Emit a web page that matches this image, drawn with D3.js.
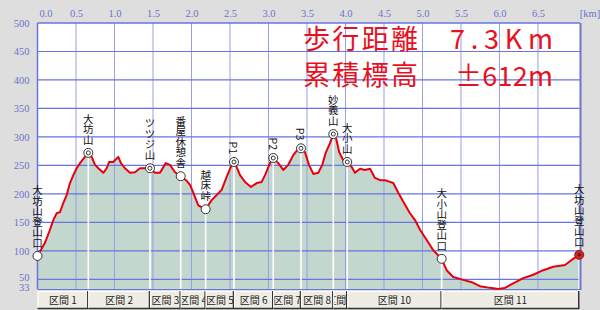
<!DOCTYPE html>
<html><head><meta charset="utf-8">
<script src="https://cdn.jsdelivr.net/npm/d3@7"></script>
<style>
html,body{margin:0;padding:0;background:#dedede;}
svg{display:block;}
</style></head>
<body>
<svg id="chart" width="600" height="310"></svg>
<script>
// ---- data ----
const profileKm = [0,0.097,0.162,0.205,0.249,0.292,0.335,0.379,0.422,0.465,0.509,0.552,0.617,0.660,0.704,0.747,0.790,0.855,0.899,0.929,0.984,1.049,1.084,1.136,1.201,1.266,1.331,1.396,1.461,1.526,1.591,1.665,1.721,1.786,1.860,1.938,1.981,2.023,2.088,2.184,2.262,2.327,2.392,2.457,2.522,2.552,2.587,2.630,2.695,2.773,2.847,2.912,2.955,3.019,3.062,3.127,3.192,3.257,3.322,3.387,3.422,3.474,3.526,3.582,3.647,3.699,3.743,3.799,3.842,3.877,3.919,3.971,4.023,4.081,4.123,4.188,4.253,4.318,4.383,4.448,4.513,4.560,4.621,4.686,4.751,4.838,4.903,4.968,5.055,5.140,5.249,5.314,5.400,5.530,5.639,5.747,5.877,5.984,6.071,6.179,6.309,6.439,6.569,6.699,6.851,6.938,7.036];
const profileElev = [91,114,137,154,166,168,184,198,219,233,245,254,265,272,265,251,245,237,245,256,256,265,254,245,237,238,245,245,245,237,237,254,251,238,231,223,216,202,180,173,189,198,207,230,251,256,247,233,221,212,219,221,233,254,263,254,242,251,268,279,280,273,251,235,237,251,272,289,305,298,273,259,256,247,237,244,242,244,228,224,224,222,219,202,186,166,154,137,119,101,86,66,54,49,45,38,35,33,35,43,52,58,66,72,75,84,93];

const wpNames = ["大坊山登山口","大坊山","ツツジ山","番屋休憩舎","越床峠","P1","P2","P3","妙義山","大小山","大小山登山口","大坊山登山口"];
const wpKm    = [0,0.660,1.461,1.860,2.184,2.552,3.062,3.422,3.842,4.023,5.249,7.036];
const wpElev  = [91,272,245,231,173,256,263,280,305,256,86,93];
const wpType  = ["plain","peak","peak","plain","plain","peak","peak","peak","peak","peak","plain","end"];

const segLabels = ["区間 1","区間 2","区間 3","区間 4","区間 5","区間 6","区間 7","区間 8","区間 9","区間 10","区間 11"];

const xTicks = [0,0.5,1,1.5,2,2.5,3,3.5,4,4.5,5,5.5,6,6.5];
const yTicks = [33,50,100,150,200,250,300,350,400,450,500];
const yGrid  = [50,100,150,200,250,300,350,400,450];

const titleLine1 = ["歩行距離","7.3Km"];
const titleLine2 = ["累積標高","±612m"];

// ---- layout ----
const L = 37.5, R = 580, T = 23, B = 289;
const x = d3.scaleLinear().domain([0, 7.046]).range([L, R]);
const y = d3.scaleLinear().domain([33, 500]).range([B, T]);

const svg = d3.select("#chart");
svg.append("rect").attr("width",600).attr("height",310).attr("fill","#dedede");
svg.append("rect").attr("x",L).attr("y",T).attr("width",R-L).attr("height",B-T).attr("fill","#ffffff");

const pts = profileKm.map((k,i)=>[k,profileElev[i]]);

// fill
svg.append("path").datum(pts)
  .attr("d", d3.area().x(d=>x(d[0])).y0(B).y1(d=>y(d[1])))
  .attr("fill","#c3d7cf");

// grid
svg.append("g").selectAll("line").data(xTicks.filter(d=>d>0)).join("line")
  .attr("x1",d=>x(d)).attr("x2",d=>x(d)).attr("y1",T).attr("y2",B)
  .attr("stroke","#98a0e4").attr("stroke-width",1);
svg.append("g").selectAll("line").data(yGrid).join("line")
  .attr("x1",L).attr("x2",R).attr("y1",d=>y(d)).attr("y2",d=>y(d))
  .attr("stroke","#6676dc").attr("stroke-width",1.2);

// drop lines
svg.append("g").selectAll("line").data(wpKm.slice(1)).join("line")
  .attr("x1",d=>x(d)).attr("x2",d=>x(d))
  .attr("y1",(d,i)=>y(wpElev[i+1])).attr("y2",B+4)
  .attr("stroke","#ffffff").attr("stroke-width",1.6);

// frame
svg.append("line").attr("x1",L).attr("x2",R).attr("y1",T).attr("y2",T).attr("stroke","#6676dc").attr("stroke-width",1.5);
svg.append("line").attr("x1",L).attr("x2",L).attr("y1",T).attr("y2",B).attr("stroke","#6676dc").attr("stroke-width",1.5);
svg.append("line").attr("x1",R+0.5).attr("x2",R+0.5).attr("y1",T).attr("y2",B+1).attr("stroke","#6f74cc").attr("stroke-width",2);
svg.append("line").attr("x1",L).attr("x2",R).attr("y1",B+0.5).attr("y2",B+0.5).attr("stroke","#6676dc").attr("stroke-width",1);

// profile line
svg.append("path").datum(pts)
  .attr("d", d3.line().x(d=>x(d[0])).y(d=>y(d[1])))
  .attr("fill","none").attr("stroke","#e8000c").attr("stroke-width",2).attr("stroke-linejoin","round");

// markers
const mk = svg.append("g");
wpKm.forEach((k,i)=>{
  const cx = x(k), cy = y(wpElev[i]);
  if (wpType[i]==="end"){
    mk.append("circle").attr("cx",cx).attr("cy",cy).attr("r",4.5).attr("fill","#e02020").attr("stroke","#802020").attr("stroke-width",1);
    mk.append("circle").attr("cx",cx).attr("cy",cy).attr("r",1.8).attr("fill","#602020");
  } else {
    mk.append("circle").attr("cx",cx).attr("cy",cy).attr("r",4.5).attr("fill","#ffffff").attr("stroke","#333333").attr("stroke-width",1);
    if (wpType[i]==="peak")
      mk.append("circle").attr("cx",cx).attr("cy",cy).attr("r",2).attr("fill","none").attr("stroke","#333333").attr("stroke-width",1);
  }
});

// labels (vertical)
svg.append("g").selectAll("text").data(wpNames).join("text")
  .attr("x",(d,i)=>x(wpKm[i]))
  .attr("y",(d,i)=>y(wpElev[i]) - 8)
  .attr("text-anchor","end")
  .style("writing-mode","vertical-rl")
  .attr("font-family","'Noto Sans CJK JP', sans-serif")
  .attr("font-size",10.5)
  .attr("fill","#111")
  .text(d=>d);

// axes
const ax = svg.append("g").attr("transform",`translate(0,${T-6})`)
  .call(d3.axisTop(x).tickValues(xTicks).tickFormat(d3.format(".1f")).tickSize(0).tickPadding(0));
ax.select(".domain").remove();
ax.selectAll("text").attr("font-family","'Liberation Serif', serif").attr("font-size",10.5).attr("fill","#6a74c8");
ax.selectAll(".tick").filter(d=>d===0).select("text").attr("dx",8);
svg.append("text").attr("x",590).attr("y",T-6).attr("text-anchor","middle")
  .attr("font-family","'Liberation Serif', serif").attr("font-size",10.5).attr("fill","#6a74c8").text("[km]");

const ay = svg.append("g").attr("transform",`translate(${L},0)`)
  .call(d3.axisLeft(y).tickValues(yTicks).tickSize(0).tickPadding(8));
ay.select(".domain").remove();
ay.selectAll("text").attr("font-family","'Liberation Serif', serif").attr("font-size",10.5).attr("fill","#6a74c8");
ay.selectAll(".tick").filter(d=>d===33).select("text").attr("dy","0.15em");
ay.selectAll(".tick").filter(d=>d===50).select("text").attr("dy","0.1em");

// title texts
const tg = svg.append("g").attr("fill","#e8101e").attr("font-family","'Noto Sans CJK JP', sans-serif");
tg.append("text").attr("x",303).attr("y",49).attr("font-size",27).attr("textLength",115).text(titleLine1[0]);
tg.append("text").attr("x",450).attr("y",49).attr("font-size",27).attr("textLength",103).attr("lengthAdjust","spacing").text(titleLine1[1]);
tg.append("text").attr("x",303).attr("y",85).attr("font-size",27).attr("textLength",115).text(titleLine2[0]);
tg.append("text").attr("x",455).attr("y",86).attr("font-size",27).attr("textLength",98).attr("lengthAdjust","spacing").text(titleLine2[1]);

// segment boxes
const segG = svg.append("g");
const defs = svg.append("defs");
segLabels.forEach((s,i)=>{
  const x0 = x(wpKm[i]), x1 = x(wpKm[i+1]);
  const by = 291, bh = 18;
  defs.append("clipPath").attr("id","seg"+i).append("rect").attr("x",x0+1).attr("y",by).attr("width",x1-x0-2).attr("height",bh);
  segG.append("rect").attr("x",x0).attr("y",by).attr("width",x1-x0).attr("height",bh).attr("fill","#efece5");
  segG.append("line").attr("x1",x0).attr("x2",x1).attr("y1",by+0.5).attr("y2",by+0.5).attr("stroke","#ffffff");
  segG.append("line").attr("x1",x0+0.5).attr("x2",x0+0.5).attr("y1",by).attr("y2",by+bh).attr("stroke","#ffffff");
  segG.append("line").attr("x1",x1-0.5).attr("x2",x1-0.5).attr("y1",by).attr("y2",by+bh).attr("stroke","#333333").attr("stroke-width",1.5);
  segG.append("line").attr("x1",x0).attr("x2",x1).attr("y1",by+bh-0.5).attr("y2",by+bh-0.5).attr("stroke","#333333").attr("stroke-width",1.5);
  segG.append("text").attr("x",(x0+x1)/2).attr("y",by+13).attr("text-anchor","middle")
    .attr("clip-path",`url(#seg${i})`)
    .attr("font-family","'Noto Sans CJK JP', sans-serif").attr("font-size",10).attr("fill","#222").text(s);
});
</script>
</body></html>
